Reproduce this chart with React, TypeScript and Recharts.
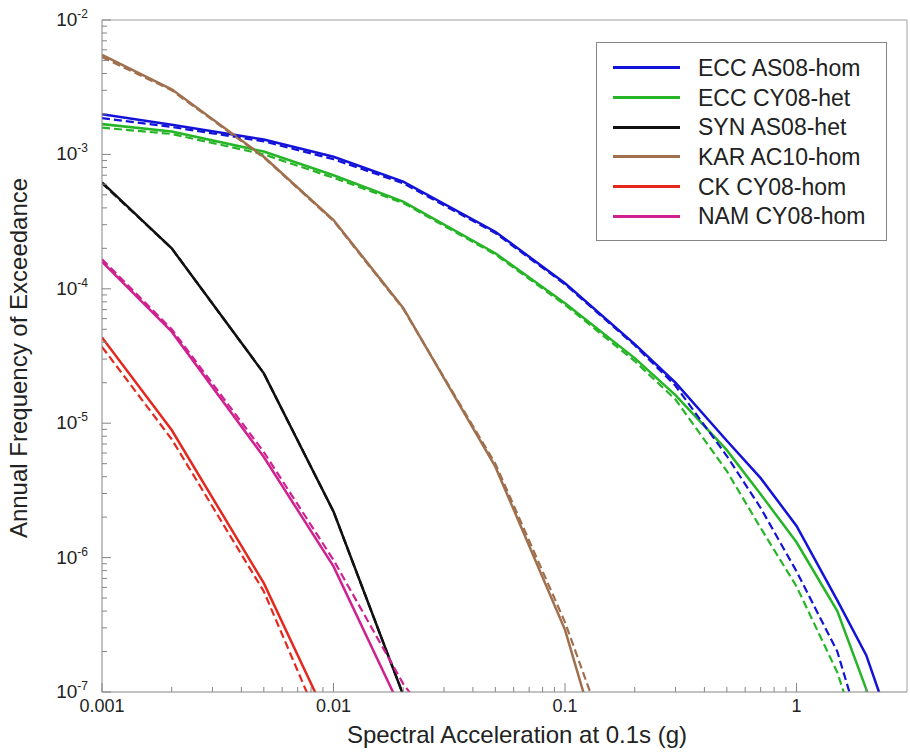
import React from 'react';
import { LineChart, Line, XAxis, YAxis, Legend, ReferenceLine } from 'recharts';

// spectral acceleration (g) at which each hazard curve was sampled
const accel = [0.001, 0.002, 0.005, 0.01, 0.02, 0.05, 0.1, 0.2, 0.3, 0.5, 0.7, 1, 1.5, 2, 3];

// annual frequency of exceedance, solid = one model, dashed = the paired run
const eccAs08 = [1.99e-3, 1.66e-3, 1.29e-3, 9.6e-4, 6.27e-4, 2.66e-4, 1.1e-4, 3.88e-5, 2.0e-5, 7.4e-6, 3.9e-6, 1.72e-6, 4.8e-7, 1.88e-7, 2.5e-8];
const eccAs08Dash = [1.86e-3, 1.6e-3, 1.25e-3, 9.2e-4, 6.1e-4, 2.6e-4, 1.08e-4, 3.8e-5, 1.9e-5, 5.7e-6, 2.34e-6, 7.9e-7, 2.0e-7, 3.8e-8, 1e-9];
const eccCy08 = [1.68e-3, 1.48e-3, 1.05e-3, 7.0e-4, 4.45e-4, 1.84e-4, 7.8e-5, 3.05e-5, 1.62e-5, 6.3e-6, 2.96e-6, 1.3e-6, 4.0e-7, 1.05e-7, 1e-8];
const eccCy08Dash = [1.58e-3, 1.42e-3, 1.0e-3, 6.7e-4, 4.35e-4, 1.8e-4, 7.6e-5, 2.9e-5, 1.5e-5, 4.4e-6, 1.66e-6, 6.1e-7, 1.4e-7, 3e-8, 1e-9];
const synAs08 = [6.2e-4, 2.0e-4, 2.35e-5, 2.2e-6, 9.5e-8];
const synAs08Dash = [6.1e-4, 2.0e-4, 2.35e-5, 2.2e-6, 9.5e-8];
const karAc10 = [5.5e-3, 3.05e-3, 9.6e-4, 3.25e-4, 7.2e-5, 4.75e-6, 2.9e-7, 5e-9];
const karAc10Dash = [5.3e-3, 3.0e-3, 9.5e-4, 3.2e-4, 7.1e-5, 5.0e-6, 3.3e-7, 1.2e-8];
const ckCy08 = [4.35e-5, 8.9e-6, 6.45e-7, 5.1e-8];
const ckCy08Dash = [3.7e-5, 7.6e-6, 5.6e-7, 3.4e-8];
const namCy08 = [1.59e-4, 4.8e-5, 5.6e-6, 8.6e-7, 6.9e-8];
const namCy08Dash = [1.66e-4, 5.0e-5, 6.1e-6, 9.6e-7, 1.15e-7, 1.4e-8];

const X_MAJOR = [0.001, 0.01, 0.1, 1];
const X_LABELS = ['0.001', '0.01', '0.1', '1'];
const Y_MAJOR = [1e-7, 1e-6, 1e-5, 1e-4, 1e-3, 1e-2];
const Y_EXP = ['-7', '-6', '-5', '-4', '-3', '-2'];
const MINOR_STEPS = [2, 3, 4, 5, 6, 7, 8, 9];

const X_TICKS = [...X_MAJOR, ...X_MAJOR.flatMap(d => MINOR_STEPS.map(m => d * m)).filter(v => v < 3)].sort((a, b) => a - b);
const Y_TICKS = [...Y_MAJOR, ...Y_MAJOR.slice(0, -1).flatMap(d => MINOR_STEPS.map(m => d * m))].sort((a, b) => a - b);

const SERIES = [
    { name: 'ECC AS08-hom', key: 'eccAs08', solid: eccAs08, dashed: eccAs08Dash, color: '#1212d8' },
    { name: 'ECC CY08-het', key: 'eccCy08', solid: eccCy08, dashed: eccCy08Dash, color: '#26b526' },
    { name: 'SYN AS08-het', key: 'synAs08', solid: synAs08, dashed: synAs08Dash, color: '#111111' },
    { name: 'KAR AC10-hom', key: 'karAc10', solid: karAc10, dashed: karAc10Dash, color: '#a0704e' },
    { name: 'CK CY08-hom', key: 'ckCy08', solid: ckCy08, dashed: ckCy08Dash, color: '#e4281e' },
    { name: 'NAM CY08-hom', key: 'namCy08', solid: namCy08, dashed: namCy08Dash, color: '#cf2190' },
];

const data = accel.map((x, i) => {
    const row: Record<string, number | null> = { x };
    SERIES.forEach(s => {
        row[s.key] = s.solid[i] ?? null;
        row[s.key + 'Dash'] = s.dashed[i] ?? null;
    });
    return row;
});

const AXIS = '#858585';
const TEXT = '#222';
const FONT = '"Liberation Sans", Arial, sans-serif';

const XTick = (props: any) => {
    const { x, y, payload } = props;
    const idx = X_MAJOR.indexOf(payload.value);
    const major = idx >= 0;
    return (
        <g>
            <line x1={x} x2={x} y1={y} y2={y - (major ? 9 : 5)} stroke={AXIS} />
            {major && (
                <text x={x} y={y + 20} textAnchor="middle" fontSize={18} fill={TEXT}>{X_LABELS[idx]}</text>
            )}
        </g>
    );
};

const YTick = (props: any) => {
    const { x, y, payload } = props;
    const idx = Y_MAJOR.indexOf(payload.value);
    const major = idx >= 0;
    return (
        <g>
            <line x1={x} x2={x + (major ? 9 : 5)} y1={y} y2={y} stroke={AXIS} />
            {major && (
                <text x={x - 14} y={y + 6} textAnchor="end" fontSize={19} fill={TEXT}>
                    10<tspan dy={-8} fontSize={12}>{Y_EXP[idx]}</tspan>
                </text>
            )}
        </g>
    );
};

const LegendBox = () => (
    <div style={{ border: `1px solid ${AXIS}`, background: '#fff', width: 291, height: 199, boxSizing: 'border-box', paddingTop: 10, fontFamily: FONT }}>
        {SERIES.map(s => (
            <div key={s.key} style={{ display: 'flex', alignItems: 'center', height: 29.7 }}>
                <span style={{ display: 'inline-block', width: 67, borderTop: `3px solid ${s.color}`, marginLeft: 16 }} />
                <span style={{ marginLeft: 18, fontSize: 23, color: TEXT, lineHeight: '24px' }}>{s.name}</span>
            </div>
        ))}
    </div>
);

export default function App() {
    return (
        <div style={{ position: 'absolute', left: 0, top: 0, width: 910, height: 753, background: '#fff', fontFamily: FONT }}>
            <LineChart width={910} height={753} data={data} margin={{ top: 20, right: 3, bottom: 60, left: 101 }}>
                <XAxis
                    dataKey="x" type="number" scale="log" domain={[0.001, 3]} allowDataOverflow
                    ticks={X_TICKS} interval={0} height={1} tickSize={0} tickMargin={0} tickLine={false}
                    tick={<XTick />} axisLine={{ stroke: AXIS }}
                    label={{
                        content: () => (
                            <text x={517} y={743} textAnchor="middle" fontSize={24} fill={TEXT}>Spectral Acceleration at 0.1s (g)</text>
                        ),
                    }}
                />
                <YAxis
                    type="number" scale="log" domain={[1e-7, 1e-2]} allowDataOverflow
                    ticks={Y_TICKS} interval={0} width={1} tickSize={0} tickMargin={0} tickLine={false}
                    tick={<YTick />} axisLine={{ stroke: AXIS }}
                    label={{
                        content: () => (
                            <text x={27} y={358} transform="rotate(-90, 27, 358)" textAnchor="middle" fontSize={24} fill={TEXT}>Annual Frequency of Exceedance</text>
                        ),
                    }}
                />
                <ReferenceLine y={1e-2} stroke="#a0a0a0" />
                <ReferenceLine x={3} stroke="#a0a0a0" />
                {SERIES.map(s => (
                    <Line key={s.key} type="linear" dataKey={s.key} stroke={s.color} strokeWidth={2.5}
                        dot={false} activeDot={false} isAnimationActive={false} />
                ))}
                {SERIES.map(s => (
                    <Line key={s.key + 'Dash'} type="linear" dataKey={s.key + 'Dash'} stroke={s.color} strokeWidth={2.2}
                        strokeDasharray="8 4" dot={false} activeDot={false} legendType="none" isAnimationActive={false} />
                ))}
                <Legend
                    layout="vertical" align="center" verticalAlign="middle"
                    wrapperStyle={{ left: 596, top: 42, width: 291, height: 199 }}
                    content={() => <LegendBox />}
                />
            </LineChart>
        </div>
    );
}
